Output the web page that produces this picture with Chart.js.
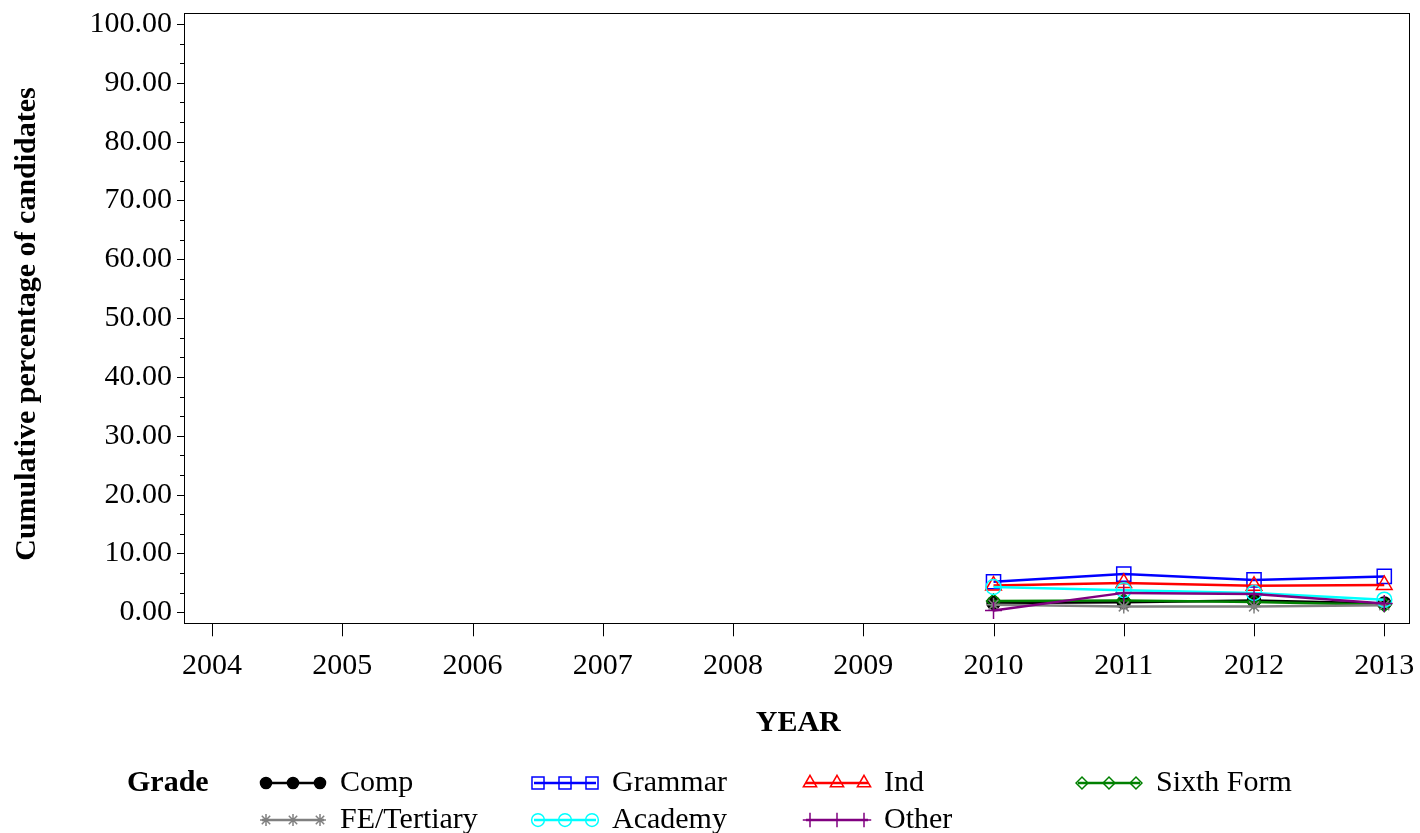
<!DOCTYPE html>
<html><head><meta charset="utf-8">
<script src="https://cdn.jsdelivr.net/npm/chart.js@4.4.1/dist/chart.umd.min.js"></script>
<style>html,body{margin:0;padding:0;background:#fff;overflow:hidden}#wrap{width:1420px;height:833px}</style>
</head><body><div id="wrap"><canvas id="c" width="1420" height="833"></canvas></div>
<script>
// ---- data ----
const years = [2010, 2011, 2012, 2013];
const xTickYears = [2004, 2005, 2006, 2007, 2008, 2009, 2010, 2011, 2012, 2013];
const yTickValues = [0, 10, 20, 30, 40, 50, 60, 70, 80, 90, 100];
const seriesNames = ['Comp', 'Grammar', 'Ind', 'Sixth Form', 'FE/Tertiary', 'Academy', 'Other'];
const comp = [1.6, 1.7, 2.0, 1.5];
const grammar = [5.2, 6.5, 5.5, 6.1];
const ind = [4.55, 5.0, 4.5, 4.65];
const sixthForm = [1.9, 2.0, 1.75, 1.3];
const feTertiary = [1.3, 1.0, 1.0, 1.2];
const academy = [4.3, 3.75, 3.3, 2.15];
const other = [0.3, 3.3, 3.1, 1.5];
const seriesValues = [comp, grammar, ind, sixthForm, feTertiary, academy, other];

// ---- styles ----
const FONT = "'Liberation Serif', 'Times New Roman', serif";
const styles = [
  {color:'#000000', pointStyle:'circle',  radius:6.5, fill:'#000000', bw:1.5},
  {color:'#0000FF', pointStyle:'rect',    radius:10,  fill:'rgba(0,0,0,0)', bw:1.5},
  {color:'#FF0000', pointStyle:'triangle',radius:9,   fill:'rgba(0,0,0,0)', bw:1.5},
  {color:'#008000', pointStyle:'rectRot', radius:7,   fill:'rgba(0,0,0,0)', bw:1.5},
  {color:'#808080', pointStyle:'star',    radius:7,   fill:'rgba(0,0,0,0)', bw:1.5},
  {color:'#00FFFF', pointStyle:'circle',  radius:7.5, fill:'rgba(0,0,0,0)', bw:1.5},
  {color:'#800080', pointStyle:'cross',   radius:8.5, fill:'rgba(0,0,0,0)', bw:1.5}
];

const datasets = seriesNames.map((name, i) => ({
  label: name,
  data: years.map((yr, j) => ({x: yr, y: seriesValues[i][j]})),
  borderColor: styles[i].color,
  backgroundColor: styles[i].fill,
  borderWidth: 2.5,
  pointStyle: styles[i].pointStyle,
  pointRadius: styles[i].radius,
  pointBorderWidth: styles[i].bw,
  pointBorderColor: styles[i].color,
  pointBackgroundColor: styles[i].fill,
  tension: 0,
  fill: false,
  order: seriesNames.length - i
}));

const decor = {
  id: 'decor',
  afterDraw(chart) {
    const ctx = chart.ctx, a = chart.chartArea, xs = chart.scales.x, ys = chart.scales.y;
    ctx.save();
    ctx.strokeStyle = '#000'; ctx.lineWidth = 1;
    ctx.strokeRect(Math.round(a.left) + 0.5, Math.round(a.top) + 0.5,
                   Math.round(a.right - a.left), Math.round(a.bottom - a.top));
    ctx.beginPath();
    yTickValues.forEach((v, i) => {
      const py = Math.round(ys.getPixelForValue(v)) + 0.5;
      ctx.moveTo(a.left - 7, py); ctx.lineTo(a.left, py);
      if (i < yTickValues.length - 1) {
        const step = (yTickValues[i + 1] - v) / 3;
        for (let k = 1; k < 3; k++) {
          const q = Math.round(ys.getPixelForValue(v + k * step)) + 0.5;
          ctx.moveTo(a.left - 4, q); ctx.lineTo(a.left, q);
        }
      }
    });
    xTickYears.forEach(yr => {
      const px = Math.round(xs.getPixelForValue(yr)) + 0.5;
      ctx.moveTo(px, a.bottom); ctx.lineTo(px, a.bottom + 13);
    });
    ctx.stroke();

    // axis titles
    ctx.fillStyle = '#000';
    ctx.font = 'bold 30px ' + FONT;
    ctx.textAlign = 'center'; ctx.textBaseline = 'middle';
    ctx.fillText('YEAR', (a.left + a.right) / 2 + 2, 723);
    ctx.save();
    ctx.translate(27, 324); ctx.rotate(-Math.PI / 2);
    ctx.fillText('Cumulative percentage of candidates', 0, 0);
    ctx.restore();

    // legend
    ctx.textAlign = 'left';
    ctx.fillText('Grade', 127, 783);
    ctx.font = '30px ' + FONT;
    seriesNames.forEach((name, i) => {
      const col = i < 4 ? i : i - 4;
      const row = i < 4 ? 0 : 1;
      const x0 = 262 + 272 * col;
      const y = 783 + 37 * row;
      const st = styles[i];
      ctx.strokeStyle = st.color; ctx.lineWidth = 2.5;
      ctx.beginPath(); ctx.moveTo(x0, y); ctx.lineTo(x0 + 62, y); ctx.stroke();
      [x0 + 4, x0 + 31, x0 + 58].forEach(mx => {
        ctx.strokeStyle = st.color; ctx.fillStyle = st.fill; ctx.lineWidth = st.bw;
        Chart.helpers.drawPoint(ctx, {pointStyle: st.pointStyle, radius: st.radius * 0.85, borderWidth: st.bw, rotation: 0}, mx, y);
      });
      ctx.fillStyle = '#000';
      ctx.fillText(name, x0 + 78, y);
    });
    ctx.restore();
  }
};

new Chart(document.getElementById('c'), {
  type: 'line',
  data: {datasets},
  options: {
    responsive: false,
    animation: false,
    devicePixelRatio: 1,
    layout: {padding: {top: 13, right: 9, left: 0, bottom: 0}},
    plugins: {legend: {display: false}, tooltip: {enabled: false}, title: {display: false}},
    scales: {
      x: {
        type: 'linear',
        min: 2003.785, max: 2013.186,
        afterBuildTicks: s => { s.ticks = xTickYears.map(v => ({value: v})); },
        afterFit: s => { s.height = 209.7; s.paddingLeft = 0; s.paddingRight = 0; },
        grid: {display: false, drawTicks: true, tickLength: 13},
        border: {display: false},
        ticks: {
          autoSkip: false, maxRotation: 0, padding: 12, color: '#000',
          font: {family: FONT, size: 30},
          callback: v => String(v)
        }
      },
      y: {
        type: 'linear',
        min: -1.87, max: 101.87,
        afterBuildTicks: s => { s.ticks = yTickValues.map(v => ({value: v})); },
        afterFit: s => { s.width = 184; s.paddingTop = 0; s.paddingBottom = 0; },
        grid: {display: false, drawTicks: true, tickLength: 6},
        border: {display: false},
        ticks: {
          autoSkip: false, padding: 6, color: '#000',
          font: {family: FONT, size: 30},
          callback: v => Number(v).toFixed(2)
        }
      }
    }
  },
  plugins: [decor]
});
</script>
</body></html>
